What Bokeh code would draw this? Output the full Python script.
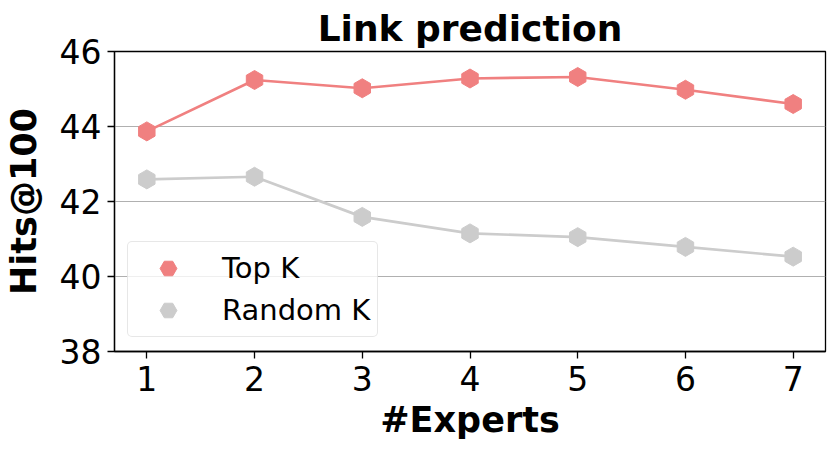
import numpy as np
from bokeh.plotting import figure
from bokeh.models import Range1d, FixedTicker, Legend, LegendItem
from bokeh.embed import file_html
from bokeh.resources import INLINE

experts = [1, 2, 3, 4, 5, 6, 7]
top_k = [43.87, 45.24, 45.02, 45.28, 45.32, 44.98, 44.60]
random_k = [42.59, 42.66, 41.59, 41.15, 41.05, 40.79, 40.53]
y_ticks = [38, 40, 42, 44, 46]

FONT = "DejaVu Sans"
TOP_COLOR = "#F08080"
RAND_COLOR = "#CCCCCC"

p = figure(frame_width=711, frame_height=300,
           min_border_left=113, min_border_right=6,
           min_border_top=51, min_border_bottom=102,
           x_range=Range1d(0.7, 7.3), y_range=Range1d(38, 46),
           output_backend="svg", toolbar_location=None,
           title="Link prediction")

p.title.text_font = FONT
p.title.text_font_size = "36px"
p.title.text_font_style = "bold"
p.title.align = "center"
p.title.text_color = "black"
p.title.standoff = 5

p.outline_line_color = "black"
p.outline_line_width = 1.3
p.outline_line_alpha = 1.0

p.xgrid.visible = False
p.ygrid.grid_line_color = "#b0b0b0"
p.ygrid.grid_line_width = 1

p.xaxis.ticker = FixedTicker(ticks=experts)
p.yaxis.ticker = FixedTicker(ticks=y_ticks)

for ax in (p.xaxis[0], p.yaxis[0]):
    ax.axis_line_color = "black"
    ax.axis_line_width = 1.3
    ax.major_tick_line_color = "black"
    ax.major_tick_line_width = 1.3
    ax.major_tick_in = 0
    ax.major_tick_out = 7
    ax.minor_tick_line_color = None
    ax.major_label_text_font = FONT
    ax.major_label_text_font_size = "33px"
    ax.major_label_text_color = "black"
    ax.axis_label_text_font = FONT
    ax.axis_label_text_font_size = "35px"
    ax.axis_label_text_font_style = "bold"
    ax.axis_label_text_color = "black"

p.xaxis.axis_label = "#Experts"
p.yaxis.axis_label = "Hits@100"
p.xaxis.major_label_standoff = 7
p.yaxis.major_label_standoff = 6
p.xaxis.axis_label_standoff = 6
p.yaxis.axis_label_standoff = 13

p.line(experts, top_k, line_color=TOP_COLOR, line_width=2.7)
s1 = p.scatter(experts, top_k, marker="hex", size=19, angle=np.pi / 2,
               fill_color=TOP_COLOR, line_color=TOP_COLOR)
p.line(experts, random_k, line_color=RAND_COLOR, line_width=2.7)
s2 = p.scatter(experts, random_k, marker="hex", size=19, angle=np.pi / 2,
               fill_color=RAND_COLOR, line_color=RAND_COLOR)

legend = Legend(items=[LegendItem(label="Top K", renderers=[s1]),
                       LegendItem(label="Random K", renderers=[s2])],
                location=(13, 14))
legend.label_text_font = FONT
legend.label_text_font_size = "29px"
legend.label_text_color = "black"
legend.padding = 5
legend.spacing = 0
legend.glyph_height = 42
legend.glyph_width = 70
legend.label_height = 42
legend.label_width = 150
legend.label_standoff = 19
legend.border_line_color = "#d0d0d0"
legend.border_line_width = 1.2
legend.background_fill_color = "white"
legend.background_fill_alpha = 0.8
legend.margin = 0
try:
    legend.border_radius = 5
except Exception:
    pass
p.add_layout(legend, "center")

open("out.html", "w").write(file_html(p, INLINE))
